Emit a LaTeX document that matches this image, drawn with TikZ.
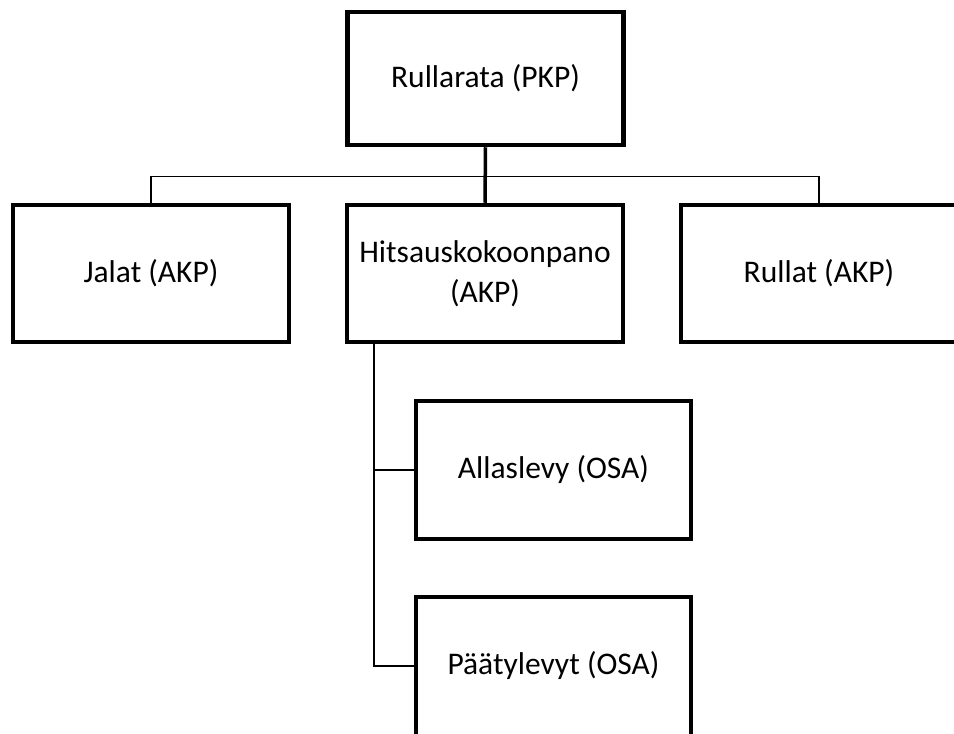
\documentclass[tikz,border=0pt]{standalone}
\usepackage{fontspec}
\setmainfont{Carlito}
\begin{document}
\begin{tikzpicture}[x=1pt,y=-1pt,
  partbox/.style={draw=black, line width=4.5pt, fill=white, rectangle,
    minimum width=276pt, minimum height=137pt, inner sep=0pt,
    align=center, font=\fontsize{31.5}{40}\selectfont},
  thickline/.style={draw=black, line width=3.5pt},
  thinline/.style={draw=black, line width=1.5pt}]
\useasboundingbox (0,0) rectangle (954,734);
\clip (0,0) rectangle (954,734);

% product structure
\node[partbox, minimum height=133pt] (root) at (485.5,78.5) {Rullarata (PKP)};
\node[partbox] (jalat) at (151,273.5) {Jalat (AKP)};
\node[partbox] (hits) at (485,273.5) {Hitsauskokoonpano\\(AKP)};
\node[partbox] (rullat) at (819,273.5) {Rullat (AKP)};
\node[partbox, minimum width=275pt, minimum height=138pt] (allas) at (553.5,470) {Allaslevy (OSA)};
\node[partbox, minimum width=275pt, minimum height=146pt, text depth=0pt] (paaty) at (553.5,670) {};
\node[font=\fontsize{31.5}{40}\selectfont, inner sep=0pt] (paatytext) at (553.5,666) {Päätylevyt (OSA)};

% top-level connectors
\coordinate (bus) at (485,176.5);
\draw[thinline] (jalat.north) -- (jalat.north |- bus) -- (rullat.north |- bus) -- (rullat.north);
\draw[thickline] (root.south) -- (hits.north);

% sub-assembly connectors
\coordinate (trunk) at (374,0);
\coordinate (paatyin) at (paaty.west |- paatytext);
\draw[thinline] (trunk |- hits.south) -- (trunk |- paatyin) -- (paatyin);
\draw[thinline] (trunk |- allas.west) -- (allas.west);
\end{tikzpicture}
\end{document}
